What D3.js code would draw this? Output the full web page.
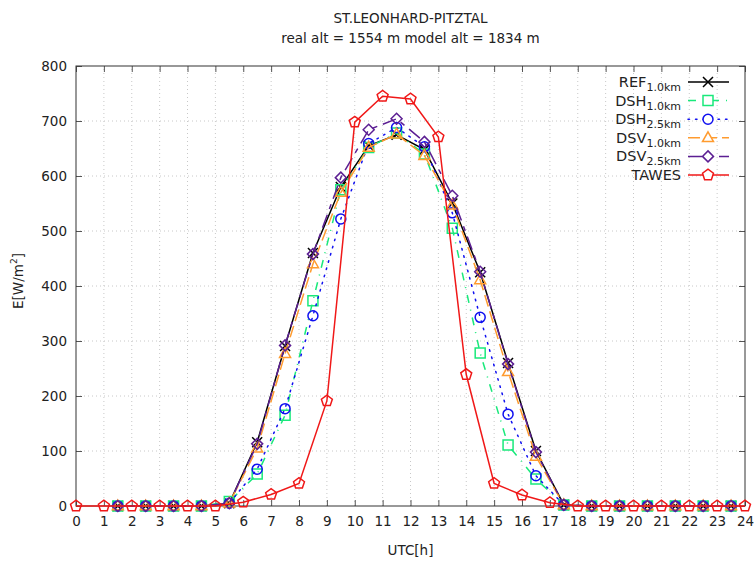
<!DOCTYPE html>
<html>
<head>
<meta charset="utf-8">
<script src="https://cdn.jsdelivr.net/npm/d3@7"></script>
<style>
  body { margin: 0; background: #fff; }
  text { font-family: "DejaVu Sans", sans-serif; fill: #222; }
</style>
</head>
<body>
<script>
// station observation, hourly
var hoursObs = [0,1,2,3,4,5,6,7,8,9,10,11,12,13,14,15,16,17,18,19,20,21,22,23,24];
var tawes    = [0,0,0,0,0,0,7,21,41,191,698,745,740,671,239,41,20,6,0,0,0,0,0,0,0];

// model runs, half hours
var hoursModel = [1.5,2.5,3.5,4.5,5.5,6.5,7.5,8.5,9.5,10.5,11.5,12.5,13.5,14.5,15.5,16.5,17.5,18.5,19.5,20.5,21.5,22.5,23.5];
var ref10 = [0,0,0,0,5,116,291,460,580,655,675,648,550,425,260,100,2,0,0,0,0,0,0];
var dsh10 = [0,0,0,0,8,58,165,373,575,652,678,640,505,278,111,49,2,0,0,0,0,0,0];
var dsh25 = [0,0,0,0,5,67,177,346,522,659,688,653,533,343,167,55,2,0,0,0,0,0,0];
var dsv10 = [0,0,0,0,5,105,277,440,570,652,676,637,547,411,244,90,2,0,0,0,0,0,0];
var dsv25 = [0,0,0,0,5,113,292,458,597,684,704,662,564,426,258,98,2,0,0,0,0,0,0];

var xTicks = d3.range(0, 25);
var yTicks = [0,100,200,300,400,500,600,700,800];

var series = [
  {name: "REF", sub: "1.0km", x: hoursModel, y: ref10, color: "#000000", dash: null, marker: "times"},
  {name: "DSH", sub: "1.0km", x: hoursModel, y: dsh10, color: "#19e97b", dash: "8,7,1,7", marker: "square"},
  {name: "DSH", sub: "2.5km", x: hoursModel, y: dsh25, color: "#1010f0", dash: "1.5,6", marker: "circle"},
  {name: "DSV", sub: "1.0km", x: hoursModel, y: dsv10, color: "#ff9b2f", dash: "12,5", marker: "triangle"},
  {name: "DSV", sub: "2.5km", x: hoursModel, y: dsv25, color: "#5c1f93", dash: "14,6,5,6", marker: "diamond"},
  {name: "TAWES", sub: "", x: hoursObs, y: tawes, color: "#f01818", dash: null, marker: "pentagon"}
];

var width = 755, height = 561;
var margin = {top: 66, right: 10, bottom: 55, left: 76};

var svg = d3.select("body").append("svg")
  .attr("width", width)
  .attr("height", height);

var x = d3.scaleLinear().domain([0, 24]).range([margin.left, width - margin.right]);
var y = d3.scaleLinear().domain([0, 800]).range([height - margin.bottom, margin.top]);

// grid
svg.append("g").selectAll("line.gx")
  .data(xTicks.slice(1, -1)).enter().append("line")
  .attr("x1", function(d) { return x(d); }).attr("x2", function(d) { return x(d); })
  .attr("y1", y(0)).attr("y2", y(800))
  .attr("stroke", "#c8c8c8").attr("stroke-width", 1).attr("stroke-dasharray", "1,3");
svg.append("g").selectAll("line.gy")
  .data(yTicks.slice(1, -1)).enter().append("line")
  .attr("y1", function(d) { return y(d); }).attr("y2", function(d) { return y(d); })
  .attr("x1", x(0)).attr("x2", x(24))
  .attr("stroke", "#c8c8c8").attr("stroke-width", 1).attr("stroke-dasharray", "1,3");

// axes, gnuplot style: ticks inward on all four sides
var ax = svg.append("g").attr("transform", "translate(0," + y(0) + ")")
  .call(d3.axisBottom(x).tickValues(xTicks).tickSize(-6).tickPadding(10).tickSizeOuter(0));
var axTop = svg.append("g").attr("transform", "translate(0," + y(800) + ")")
  .call(d3.axisTop(x).tickValues(xTicks).tickSize(-6).tickFormat("").tickSizeOuter(0));
var ay = svg.append("g").attr("transform", "translate(" + x(0) + ",0)")
  .call(d3.axisLeft(y).tickValues(yTicks).tickSize(-6).tickPadding(9).tickSizeOuter(0));
var ayR = svg.append("g").attr("transform", "translate(" + x(24) + ",0)")
  .call(d3.axisRight(y).tickValues(yTicks).tickSize(-6).tickFormat("").tickSizeOuter(0));

[ax, axTop, ay, ayR].forEach(function(g) {
  g.select(".domain").remove();
  g.selectAll(".tick line").attr("stroke", "#555");
  g.selectAll(".tick text").attr("font-size", 13.5).attr("font-family", "DejaVu Sans, sans-serif").attr("fill", "#222");
});

svg.append("rect")
  .attr("x", x(0)).attr("y", y(800))
  .attr("width", x(24) - x(0)).attr("height", y(0) - y(800))
  .attr("fill", "none").attr("stroke", "#333").attr("stroke-width", 1);

// markers
function markerPath(type, s) {
  var p = d3.path();
  if (type === "times") {
    p.moveTo(-s, -s); p.lineTo(s, s); p.moveTo(-s, s); p.lineTo(s, -s);
  } else if (type === "square") {
    p.rect(-s, -s, 2 * s, 2 * s);
  } else if (type === "circle") {
    p.arc(0, 0, s, 0, 2 * Math.PI);
  } else if (type === "triangle") {
    p.moveTo(0, -s * 1.2); p.lineTo(s * 1.1, s * 0.75); p.lineTo(-s * 1.1, s * 0.75); p.closePath();
  } else if (type === "diamond") {
    p.moveTo(0, -s * 1.1); p.lineTo(s * 1.1, 0); p.lineTo(0, s * 1.1); p.lineTo(-s * 1.1, 0); p.closePath();
  } else if (type === "pentagon") {
    for (var i = 0; i < 5; i++) {
      var a = Math.PI / 5 + i * 2 * Math.PI / 5 + Math.PI;
      var px = s * 1.15 * Math.sin(a), py = -s * 1.15 * Math.cos(a);
      if (i === 0) p.moveTo(px, py); else p.lineTo(px, py);
    }
    p.closePath();
  }
  return p.toString();
}

var line = d3.line()
  .x(function(d) { return x(d[0]); })
  .y(function(d) { return y(d[1]); });

series.forEach(function(s) {
  var pts = s.x.map(function(v, i) { return [v, s.y[i]]; });
  var g = svg.append("g");
  g.append("path")
    .attr("d", line(pts))
    .attr("fill", "none")
    .attr("stroke", s.color)
    .attr("stroke-width", 1.5)
    .attr("stroke-linecap", s.marker === "circle" ? "round" : "butt")
    .attr("stroke-dasharray", s.dash);
  g.selectAll("path.m").data(pts).enter().append("path")
    .attr("transform", function(d) { return "translate(" + x(d[0]) + "," + y(d[1]) + ")"; })
    .attr("d", markerPath(s.marker, 5))
    .attr("fill", "none")
    .attr("stroke", s.color)
    .attr("stroke-width", 1.5);
});

// legend
var legend = svg.append("g");
series.forEach(function(s, i) {
  var ly = 82 + i * 18.6;
  var t = legend.append("text")
    .attr("x", 681).attr("y", ly + 5)
    .attr("text-anchor", "end")
    .attr("font-size", 14.5);
  t.append("tspan").text(s.name);
  if (s.sub) {
    t.append("tspan").attr("font-size", 11).attr("dy", 4).text(s.sub);
  }
  legend.append("line")
    .attr("x1", 688).attr("x2", 729).attr("y1", ly).attr("y2", ly)
    .attr("stroke", s.color).attr("stroke-width", 1.5)
    .attr("stroke-linecap", s.marker === "circle" ? "round" : "butt")
    .attr("stroke-dasharray", s.dash);
  legend.append("path")
    .attr("transform", "translate(708," + ly + ")")
    .attr("d", markerPath(s.marker, 5))
    .attr("fill", "#fff")
    .attr("stroke", s.color).attr("stroke-width", 1.5);
});

// titles
var cx = (x(0) + x(24)) / 2;
svg.append("text").attr("x", cx).attr("y", 23).attr("text-anchor", "middle")
  .attr("font-size", 13.5).text("ST.LEONHARD-PITZTAL");
svg.append("text").attr("x", cx).attr("y", 43).attr("text-anchor", "middle")
  .attr("font-size", 13.5).text("real alt = 1554 m model alt = 1834 m");

svg.append("text").attr("x", cx).attr("y", 555).attr("text-anchor", "middle")
  .attr("font-size", 13.5).text("UTC[h]");

var yl = svg.append("text")
  .attr("transform", "translate(23," + (y(400) - 5) + ") rotate(-90)")
  .attr("text-anchor", "middle")
  .attr("font-size", 13.5);
yl.append("tspan").text("E[W/m");
yl.append("tspan").attr("font-size", 9).attr("dy", -6).text("2");
yl.append("tspan").attr("dy", 6).text("]");
</script>
</body>
</html>
